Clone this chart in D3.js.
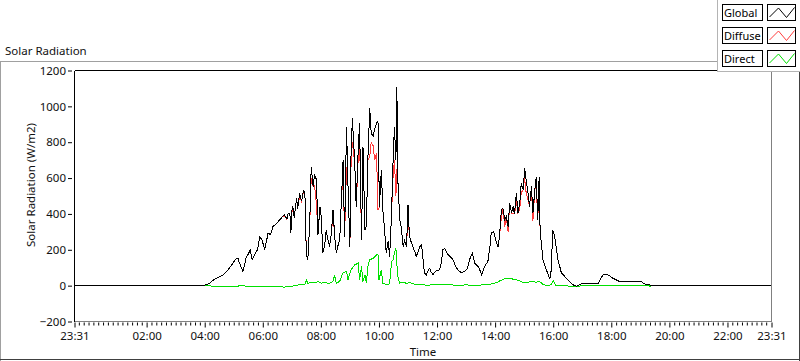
<!DOCTYPE html>
<html>
<head>
<meta charset="utf-8">
<script src="https://cdn.jsdelivr.net/npm/d3@7"></script>
<style>
  html, body { margin: 0; padding: 0; background: #fff; }
  svg { display: block; }
</style>
</head>
<body>
<div id="chart"></div>
<script>
// Global and diffuse share the same sample times
const globalTimes = [
  "23:31","03:50","04:00","04:10","04:17","04:27","04:38","04:46","04:52","04:58",
  "05:06","05:09","05:12","05:19","05:23","05:26","05:30","05:34","05:38","05:43",
  "05:49","05:54","05:59","06:04","06:11","06:16","06:21","06:28","06:35","06:41",
  "06:45","06:50","06:52","06:56","06:58","07:00","07:02","07:05","07:10","07:12",
  "07:16","07:20","07:24","07:27","07:30","07:33","07:37","07:40","07:44","07:47",
  "07:51","07:54","07:58","08:01","08:04","08:08","08:11","08:15","08:18","08:22",
  "08:25","08:29","08:32","08:35","08:39","08:42","08:46","08:49","08:53","08:56",
  "09:00","09:02","09:05","09:10","09:13","09:17","09:20","09:24","09:27","09:31",
  "09:34","09:37","09:41","09:44","09:48","09:51","09:55","09:58","10:01","10:05",
  "10:08","10:12","10:15","10:19","10:22","10:26","10:29","10:32","10:35","10:37",
  "10:39","10:43","10:46","10:50","10:53","10:57","11:00","11:03","11:07","11:10",
  "11:14","11:17","11:21","11:24","11:28","11:31","11:34","11:38","11:41","11:45",
  "11:48","11:52","11:55","11:59","12:05","12:09","12:12","12:16","12:19","12:23",
  "12:28","12:33","12:38","12:43","12:50","12:55","13:01","13:04","13:07","13:13",
  "13:18","13:25","13:28","13:32","13:35","13:38","13:45","13:49","13:52","13:57",
  "14:00","14:03","14:06","14:09","14:13","14:16","14:20","14:23","14:27","14:30",
  "14:34","14:37","14:40","14:44","14:47","14:51","14:54","14:58","15:01","15:04",
  "15:08","15:11","15:15","15:18","15:22","15:25","15:28","15:31","15:33","15:39",
  "15:46","15:53","15:56","15:59","16:03","16:10","16:17","16:24","16:30","16:37",
  "16:44","16:48","16:55","16:58","17:32","17:43","17:50","17:56","18:03","18:17",
  "18:38","19:02","19:09","19:19","19:25","23:31"
];
const globalValues = [
  0,0,3,12,30,45,60,80,101,125,
  153,150,125,79,120,162,175,200,144,172,
  200,274,250,200,293,285,330,345,367,385,
  395,370,400,404,293,420,441,380,490,430,
  516,470,530,516,172,144,350,664,553,620,
  590,283,441,380,181,230,311,250,218,300,
  423,260,181,220,255,450,702,274,887,560,
  218,700,934,683,441,750,906,255,776,311,
  330,700,990,851,832,870,906,915,441,646,
  423,300,181,250,162,400,683,887,700,1110,
  590,367,330,218,250,218,450,274,240,218,
  190,162,190,215,227,150,70,60,80,98,
  75,60,75,84,88,130,200,209,190,172,
  160,144,110,88,73,78,88,110,144,181,
  125,107,90,60,80,107,134,210,293,302,
  270,237,218,274,423,432,367,385,330,460,
  404,441,400,516,404,460,572,534,655,590,
  516,441,553,404,534,608,367,608,302,144,
  88,36,88,311,274,144,70,51,32,14,
  0,-3,5,10,10,60,64,55,42,23,
  23,22,10,4,0,0
];
const diffuseValues = [
  0,0,3,12,30,45,60,80,101,125,
  153,150,125,79,120,162,175,200,144,172,
  200,274,250,200,293,285,330,345,367,385,
  385,370,400,404,293,420,420,380,490,430,
  500,470,520,516,172,144,350,600,553,560,
  450,283,441,380,181,230,311,250,218,300,
  400,260,181,220,255,450,640,274,660,560,
  218,650,800,683,441,700,820,255,776,311,
  330,700,720,800,780,700,740,420,441,646,
  423,300,181,250,162,400,600,700,500,650,
  590,367,330,218,250,218,400,274,240,218,
  190,162,190,215,227,150,70,60,80,98,
  75,60,75,84,88,130,200,209,190,172,
  160,144,110,88,73,78,88,110,144,181,
  125,107,90,60,80,107,134,210,293,302,
  270,237,218,274,380,432,330,385,300,460,
  404,400,400,470,404,430,520,534,600,520,
  480,441,553,360,534,560,367,560,302,144,
  88,36,88,311,274,144,70,51,32,14,
  0,-3,5,10,10,60,64,55,42,23,
  23,22,10,4,0,0
];
const directTimes = [
  "23:31","03:50","04:00","04:20","04:40","05:00","05:20","05:30","05:50","06:00",
  "06:15","06:30","06:45","07:00","07:10","07:20","07:27","07:30","07:33","07:40",
  "07:47","07:54","08:01","08:08","08:15","08:22","08:25","08:28","08:32","08:39",
  "08:46","08:53","08:56","09:02","09:10","09:17","09:20","09:24","09:27","09:31",
  "09:34","09:37","09:41","09:48","09:55","09:58","10:00","10:05","10:08","10:15",
  "10:22","10:26","10:29","10:32","10:35","10:37","10:39","10:43","10:50","10:57",
  "11:03","11:10","11:20","11:40","12:00","12:20","12:40","13:00","13:20","13:40",
  "13:55","14:05","14:12","14:20","14:30","14:40","14:50","15:00","15:10","15:18",
  "15:25","15:31","15:40","15:50","15:56","16:00","16:05","16:20","16:35","16:48",
  "17:00","19:18","19:20","19:22","23:31"
];
const directValues = [
  0,0,0,-3,-5,-4,0,-5,-6,-4,
  -3,-6,-8,-3,3,5,8,32,12,20,
  15,22,14,20,12,18,25,60,12,25,
  73,79,32,88,116,125,32,107,23,60,
  14,107,144,153,172,174,32,88,14,5,
  10,134,144,181,209,120,50,14,20,12,
  18,10,5,3,5,6,2,4,2,5,
  10,20,30,38,40,35,28,15,20,25,
  18,25,5,0,8,28,3,0,-3,-5,
  0,0,-5,0,0
];

const xTickLabels = ["23:31","02:00","04:00","06:00","08:00","10:00","12:00","14:00","16:00","18:00","20:00","22:00","23:31"];
const yTicks = [-200, 0, 200, 400, 600, 800, 1000, 1200];
const seriesNames = ["Global", "Diffuse", "Direct"];
const seriesColors = ["#000000", "#ff3c3c", "#00e000"];

const W = 800, H = 361;
const plot = { left: 74.5, top: 70.5, right: 771.5, bottom: 321.5 };
const FONT = '"Noto Sans", "Liberation Sans", sans-serif';

// clock strings roll into the next day whenever the time goes backwards
function parseTimes(list) {
    let day = 0, prev = -1;
    return list.map(s => {
        const [h, m] = s.split(':').map(Number);
        if (h * 60 + m < prev) day++;
        prev = h * 60 + m;
        return new Date(2000, 0, 1 + day, h, m);
    });
}

const tickDates = parseTimes(xTickLabels);
const x = d3.scaleTime()
    .domain([tickDates[0], tickDates[tickDates.length - 1]])
    .range([plot.left, plot.right]);
const y = d3.scaleLinear().domain([-200, 1200]).range([plot.bottom, plot.top]);

const gT = parseTimes(globalTimes);
const dT = parseTimes(directTimes);
const series = [
    directValues.map((v, i) => ({ t: dT[i], v })),
    diffuseValues.map((v, i) => ({ t: gT[i], v })),
    globalValues.map((v, i) => ({ t: gT[i], v }))
];
const drawColors = [seriesColors[2], seriesColors[1], seriesColors[0]];

const svg = d3.select('#chart').append('svg')
    .attr('width', W).attr('height', H)
    .style('font-family', FONT);

svg.append('rect').attr('width', W).attr('height', H).attr('fill', '#fff');

svg.append('text')
    .attr('x', 5).attr('y', 55)
    .attr('font-size', '11.5px').attr('fill', '#111')
    .text('Solar Radiation');

// outer frame
const frame = svg.append('g').attr('shape-rendering', 'crispEdges');
frame.append('line').attr('x1', 0).attr('x2', W).attr('y1', 61.5).attr('y2', 61.5).attr('stroke', '#a0a0a0');
frame.append('line').attr('x1', 0.5).attr('x2', 0.5).attr('y1', 61).attr('y2', H).attr('stroke', '#a0a0a0');
frame.append('line').attr('x1', 0).attr('x2', W).attr('y1', 359.5).attr('y2', 359.5).attr('stroke', '#404040');
frame.append('line').attr('x1', 799.5).attr('x2', 799.5).attr('y1', 61).attr('y2', H).attr('stroke', '#404040');

// data lines, clipped to plot area
svg.append('clipPath').attr('id', 'clip')
    .append('rect')
    .attr('x', plot.left).attr('y', plot.top)
    .attr('width', plot.right - plot.left).attr('height', plot.bottom - plot.top);

const line = d3.line().x(d => x(d.t)).y(d => y(d.v));

svg.append('g').attr('clip-path', 'url(#clip)')
    .selectAll('path')
    .data(series)
    .join('path')
    .attr('d', line)
    .attr('fill', 'none')
    .attr('stroke', (d, i) => drawColors[i])
    .attr('stroke-width', 1)
    .attr('shape-rendering', 'crispEdges');

// plot border: black top/left, grey bottom/right
const border = svg.append('g').attr('shape-rendering', 'crispEdges');
border.append('line').attr('x1', plot.left).attr('x2', plot.right).attr('y1', plot.top).attr('y2', plot.top).attr('stroke', '#000');
border.append('line').attr('x1', plot.left).attr('x2', plot.left).attr('y1', plot.top).attr('y2', plot.bottom).attr('stroke', '#000');
border.append('line').attr('x1', plot.left).attr('x2', plot.right + 0.5).attr('y1', plot.bottom).attr('y2', plot.bottom).attr('stroke', '#808080');
border.append('line').attr('x1', plot.right).attr('x2', plot.right).attr('y1', plot.top).attr('y2', plot.bottom).attr('stroke', '#808080');

// y axis
const yAxis = svg.append('g')
    .attr('transform', `translate(${plot.left - 2.5},0)`)
    .call(d3.axisLeft(y).tickValues(yTicks).tickSize(4).tickPadding(2).tickFormat(d3.format('d')));
yAxis.select('.domain').remove();
yAxis.selectAll('text').attr('font-family', FONT).attr('font-size', '11.5px').attr('fill', '#111');

// x axis: major ticks with labels, minor every 10 minutes
const minorTicks = d3.timeMinute.every(10)
    .range(x.domain()[0], x.domain()[1])
    .filter(d => tickDates.every(t => Math.abs(t - d) > 3 * 60000));

const xMinor = svg.append('g')
    .attr('transform', `translate(0,${plot.bottom + 1})`)
    .call(d3.axisBottom(x).tickValues(minorTicks).tickSize(3).tickFormat(''));
xMinor.select('.domain').remove();

const xAxis = svg.append('g')
    .attr('transform', `translate(0,${plot.bottom + 1})`)
    .call(d3.axisBottom(x).tickValues(tickDates).tickSize(5).tickPadding(4).tickFormat(d3.timeFormat('%H:%M')));
xAxis.select('.domain').remove();
xAxis.selectAll('text').attr('font-family', FONT).attr('font-size', '11.5px').attr('fill', '#111');

svg.append('text')
    .attr('x', (plot.left + plot.right) / 2).attr('y', 356)
    .attr('text-anchor', 'middle')
    .attr('font-size', '11.5px').attr('fill', '#111')
    .text('Time');

svg.append('text')
    .attr('transform', `translate(35,${185}) rotate(-90)`)
    .attr('text-anchor', 'middle')
    .attr('font-size', '11.5px').attr('fill', '#111')
    .text('Solar Radiation (W/m2)');

// legend
const legend = svg.append('g').attr('shape-rendering', 'crispEdges');
legend.append('rect').attr('x', 717).attr('y', 0).attr('width', 83).attr('height', 72).attr('fill', '#fff');
legend.append('line').attr('x1', 717.5).attr('x2', 717.5).attr('y1', 0).attr('y2', 72).attr('stroke', '#b4b4b4');
legend.append('line').attr('x1', 717).attr('x2', 800).attr('y1', 71.5).attr('y2', 71.5).attr('stroke', '#b4b4b4');

const rows = legend.selectAll('g.row')
    .data(seriesNames)
    .join('g')
    .attr('class', 'row')
    .attr('transform', (d, i) => `translate(0,${4 + i * 23})`);

rows.append('rect')
    .attr('x', 722.5).attr('y', 0.5).attr('width', 40).attr('height', 16)
    .attr('fill', '#fff').attr('stroke', '#000');
rows.append('text')
    .attr('x', 724).attr('y', 13)
    .attr('font-size', '11px').attr('fill', '#000')
    .attr('shape-rendering', 'auto')
    .text(d => d);
rows.append('rect')
    .attr('x', 767.5).attr('y', 0.5).attr('width', 28).attr('height', 16)
    .attr('fill', '#fff').attr('stroke', '#000');
rows.append('polyline')
    .attr('points', '769.5,13 778.5,4 786.5,13.5 794.5,3.5')
    .attr('fill', 'none')
    .attr('stroke', (d, i) => seriesColors[i])
    .attr('shape-rendering', 'auto');
</script>
</body>
</html>
